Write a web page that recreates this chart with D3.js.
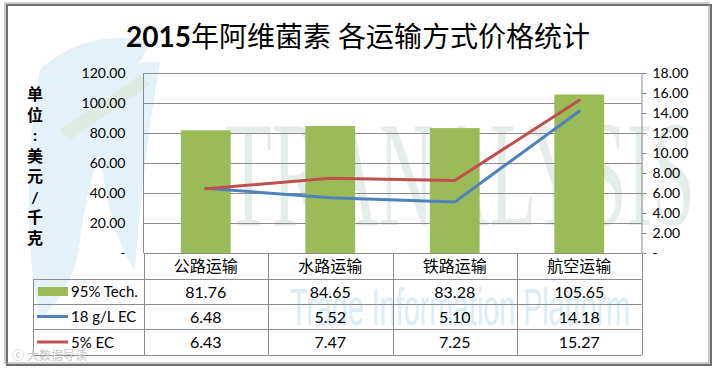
<!DOCTYPE html>
<meta charset="utf-8">
<style>
body { margin: 0; background: #fff; }
text { font-family: Lato, "Noto Sans CJK SC", sans-serif; fill: #000; }
.grid line { stroke: #8c8c8c; stroke-width: 1px; }
.tbl line { stroke: #8c8c8c; stroke-width: 1px; }
</style>
<svg></svg>
<script src="https://d3js.org/d3.v7.min.js"></script>
<script>

// data
var categories = ["公路运输", "水路运输", "铁路运输", "航空运输"];
var tech95 = [81.76, 84.65, 83.28, 105.65];   // bars, left axis
var ec18 = [6.48, 5.52, 5.10, 14.18];          // blue line, right axis
var ec5 = [6.43, 7.47, 7.25, 15.27];           // red line, right axis
var seriesNames = ["95% Tech.", "18 g/L EC", "5% EC"];
var leftTicks = [0, 20, 40, 60, 80, 100, 120];
var rightTicks = [0, 2, 4, 6, 8, 10, 12, 14, 16, 18];
var yTitle = ["单", "位", ":", "美", "元", "/", "千", "克"];

var width = 716, height = 369;
var svg = d3.select("svg").attr("width", width).attr("height", height);

var plotL = 143.5, plotR = 641.5, plotT = 73, plotB = 253;
var rowY = [253, 279, 304, 329, 355];

var x = d3.scaleBand().domain(categories).range([plotL, plotR]);
var yL = d3.scaleLinear().domain([0, 120]).range([plotB, plotT]);
var yR = d3.scaleLinear().domain([0, 18]).range([plotB, plotT]);

var colors = { bar: "#9bbb59", blue: "#4f81bd", red: "#c0504d" };

// --- watermark (faint) ---
var wm = svg.append("g");
wm.append("path")
  .attr("d", "M40,70 C70,40 120,30 150,45 C120,90 90,160 80,240 C75,280 60,300 40,320 C25,250 25,150 40,70 Z")
  .attr("fill", "#e4f1f8");
wm.append("path")
  .attr("d", "M95,95 C110,70 140,60 160,62 C150,120 140,200 135,270 C120,250 100,200 95,95 Z")
  .attr("fill", "#e4f1f8");
wm.append("path")
  .attr("d", "M60,130 L140,75 L150,85 L70,140 Z")
  .attr("fill", "#dfeae3");
wm.append("text")
  .attr("x", 225).attr("y", 225)
  .style("font-family", "'Liberation Serif', serif")
  .style("font-size", "150px")
  .attr("textLength", 470)
  .attr("lengthAdjust", "spacingAndGlyphs")
  .style("fill", "#e4ede7")
  .text("TRANALYSIS");
wm.append("text")
  .attr("x", 290).attr("y", 325)
  .style("font-family", "'Liberation Sans Narrow', 'Liberation Sans', sans-serif")
  .style("font-size", "52px")
  .attr("textLength", 340)
  .attr("lengthAdjust", "spacingAndGlyphs")
  .style("fill", "#dbedf6")
  .text("Trade Information Platform");

// --- title ---
var title = svg.append("text")
  .attr("x", 358).attr("y", 47)
  .attr("text-anchor", "middle")
  .style("font-size", "28px");
title.append("tspan").style("font-weight", "bold").text("2015");
title.append("tspan").style("font-weight", "normal").text("年阿维菌素 各运输方式价格统计");

// --- gridlines ---
svg.append("g").attr("class", "grid")
  .selectAll("line")
  .data(leftTicks.filter(function(d) { return d > 0; }))
  .enter().append("line")
    .attr("x1", plotL).attr("x2", plotR)
    .attr("y1", function(d) { return Math.round(yL(d)) + 0.5; })
    .attr("y2", function(d) { return Math.round(yL(d)) + 0.5; });

// left vertical line
svg.append("line")
  .attr("x1", plotL).attr("x2", plotL).attr("y1", plotT).attr("y2", plotB)
  .attr("stroke", "#8c8c8c");

// right axis with small ticks
var rAxis = d3.axisRight(yR).tickValues(rightTicks).tickSize(5).tickPadding(6)
  .tickFormat(function(d) { return d === 0 ? "-" : d3.format(".2f")(d); });
var rg = svg.append("g").attr("transform", "translate(" + plotR + ",0)").call(rAxis);
rg.select(".domain").attr("stroke", "#8c8c8c");
rg.selectAll(".tick line").attr("stroke", "#8c8c8c");
rg.selectAll("text").style("font-size", "14px").attr("fill", "#000");

// left axis labels (no ticks)
var lAxis = d3.axisLeft(yL).tickValues(leftTicks).tickSize(0).tickPadding(18)
  .tickFormat(function(d) { return d === 0 ? "-" : d3.format(".2f")(d); });
var lg = svg.append("g").attr("transform", "translate(" + plotL + ",0)").call(lAxis);
lg.select(".domain").remove();
lg.selectAll("text").style("font-size", "14px").attr("fill", "#000");

// vertical y title
svg.append("g").selectAll("text")
  .data(yTitle)
  .enter().append("text")
    .attr("x", 35)
    .attr("y", function(d, i) { return 100 + i * 20.5; })
    .attr("text-anchor", "middle")
    .style("font-size", "16px")
    .style("font-weight", "bold")
    .text(function(d) { return d; });

// --- bars ---
var barW = x.bandwidth() * 0.4;
svg.append("g").selectAll("rect")
  .data(tech95)
  .enter().append("rect")
    .attr("x", function(d, i) { return x(categories[i]) + (x.bandwidth() - barW) / 2; })
    .attr("width", barW)
    .attr("y", function(d) { return yL(d); })
    .attr("height", function(d) { return plotB - yL(d); })
    .attr("fill", colors.bar);

// --- lines ---
function lineFor(vals) {
  return d3.line()
    .x(function(d, i) { return x(categories[i]) + x.bandwidth() / 2; })
    .y(function(d) { return yR(d); })(vals);
}
svg.append("path").attr("d", lineFor(ec18))
  .attr("fill", "none").attr("stroke", colors.blue).attr("stroke-width", 3)
  .attr("stroke-linejoin", "round").attr("stroke-linecap", "round");
svg.append("path").attr("d", lineFor(ec5))
  .attr("fill", "none").attr("stroke", colors.red).attr("stroke-width", 3)
  .attr("stroke-linejoin", "round").attr("stroke-linecap", "round");

// --- data table ---
var tbl = svg.append("g").attr("class", "tbl");
var colEdges = [plotL].concat(categories.map(function(c) { return x(c) + x.bandwidth(); }));
var legL = 33.5;

// horizontal lines
rowY.forEach(function(y, i) {
  tbl.append("line")
    .attr("x1", i === 0 ? plotL : legL).attr("x2", plotR)
    .attr("y1", y + 0.5).attr("y2", y + 0.5);
});
// vertical lines
colEdges.forEach(function(cx) {
  tbl.append("line")
    .attr("x1", Math.round(cx) + 0.5).attr("x2", Math.round(cx) + 0.5)
    .attr("y1", rowY[0]).attr("y2", rowY[4] + 0.5);
});
tbl.append("line")
  .attr("x1", legL).attr("x2", legL).attr("y1", rowY[1]).attr("y2", rowY[4] + 0.5);

// header
tbl.selectAll("text.hdr")
  .data(categories)
  .enter().append("text")
    .attr("class", "hdr")
    .attr("x", function(d) { return x(d) + x.bandwidth() / 2; })
    .attr("y", (rowY[0] + rowY[1]) / 2 + 6)
    .attr("text-anchor", "middle")
    .style("font-size", "16px")
    .text(function(d) { return d; });

var tableRows = [tech95, ec18, ec5];
tableRows.forEach(function(vals, r) {
  var cy = (rowY[r + 1] + rowY[r + 2]) / 2;
  tbl.selectAll("text.v" + r)
    .data(vals)
    .enter().append("text")
      .attr("class", "v" + r)
      .attr("x", function(d, i) { return x(categories[i]) + x.bandwidth() / 2; })
      .attr("y", cy + 6)
      .attr("text-anchor", "middle")
      .style("font-size", "16px")
      .text(function(d) { return d3.format(".2f")(d); });

  // legend key
  if (r === 0) {
    tbl.append("rect").attr("x", 38).attr("y", cy - 4.5).attr("width", 30).attr("height", 9)
      .attr("fill", colors.bar);
  } else {
    tbl.append("line").attr("x1", 37).attr("x2", 68).attr("y1", cy).attr("y2", cy)
      .style("stroke", r === 1 ? colors.blue : colors.red).style("stroke-width", 3);
  }
  tbl.append("text")
    .attr("x", 71).attr("y", cy + 5.5)
    .style("font-size", "15px")
    .text(seriesNames[r]);
});

// faint corner mark
svg.append("text")
  .attr("x", 12).attr("y", 360)
  .style("font-size", "12px")
  .style("fill", "#c8c8c8")
  .text("ⓒ 大数据导读");

// --- outer frame with shadow ---
svg.append("rect")
  .attr("x", 7).attr("y", 5).attr("width", 704).attr("height", 360)
  .attr("fill", "none").attr("stroke", "#6e6e6e").attr("stroke-width", 2);
svg.append("rect")
  .attr("x", 5).attr("y", 3).attr("width", 704).attr("height", 360)
  .attr("fill", "none").attr("stroke", "#9a9a9a").attr("stroke-width", 1);

</script>
